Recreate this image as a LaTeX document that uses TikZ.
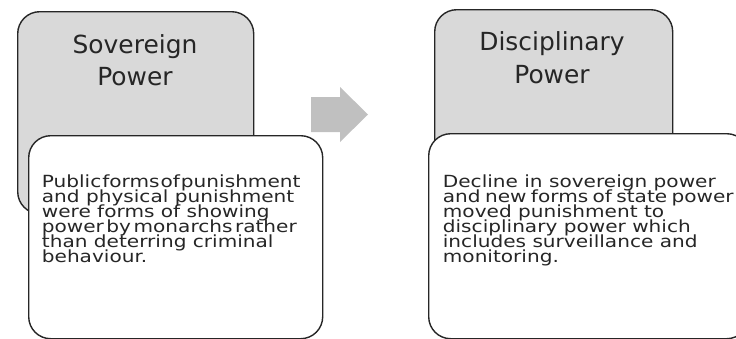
\documentclass[tikz,border=0pt]{standalone}
\usepackage{fontspec}
\setmainfont{DejaVu Sans}
\newfontfamily\bodyfont{DejaVu Sans}[FakeStretch=1.2]
\newfontfamily\headfont{DejaVu Sans}
\definecolor{boxgray}{HTML}{D9D9D9}
\definecolor{arrowgray}{HTML}{C0C0C0}
\definecolor{ink}{HTML}{262626}
\newcommand{\bodyset}{\bodyfont\fontsize{16.8}{15}\selectfont}
\newcommand{\headset}{\headfont\fontsize{25}{32.5}\selectfont}
\tikzset{
  panel/.style={draw=ink, line width=1.4bp, rounded corners=22bp, inner sep=0pt, anchor=north west},
  graybox/.style={panel, fill=boxgray},
  whitebox/.style={panel, fill=white},
  headtext/.style={text=ink, inner sep=0pt, anchor=base, font=\headset},
  bodytext/.style={text=ink, inner sep=0pt, anchor=base west, font=\bodyset,
    text height=11.5bp, text depth=3bp},
  flowarrow/.style={fill=arrowgray, draw=none},
}
\begin{document}
\begin{tikzpicture}[x=1bp, y=-1bp]
\useasboundingbox (0,0) rectangle (736,338);
% left panel
\node[graybox, minimum width=236bp, minimum height=202bp] (sovbox) at (17,11) {};
\node[headtext] (sovhead1) at (135,53) {Sovereign};
\node[headtext] (sovhead2) at (135,85.5) {Power};
\node[whitebox, minimum width=294bp, minimum height=203bp] (sovdesc) at (28,135) {};
\node[bodytext] (sovline1) at (41.7,187) {Public\hspace{1pt}forms\hspace{1pt}of\hspace{1pt}punishment};
\node[bodytext] (sovline2) at (41.7,202) {and physical punishment};
\node[bodytext] (sovline3) at (41.7,217) {were forms of showing};
\node[bodytext] (sovline4) at (41.7,232) {power\hspace{2.5pt}by\hspace{2.5pt}monarchs\hspace{2.5pt}rather};
\node[bodytext] (sovline5) at (41.7,247) {than deterring criminal};
\node[bodytext] (sovline6) at (41.7,262) {behaviour.};
% arrow
\path[flowarrow] (311,97) -- (340,97) -- (340,87) -- (368,114.5) -- (340,142) -- (340,132) -- (311,132) -- cycle;
% right panel
\node[graybox, minimum width=238bp, minimum height=204bp] (disbox) at (434,9) {};
\node[headtext] (dishead1) at (552,50.5) {Disciplinary};
\node[headtext] (dishead2) at (552,83.5) {Power};
\node[whitebox, minimum width=320bp, minimum height=205bp] (disdesc) at (428,133) {};
\node[bodytext] (disline1) at (442.7,187.5) {Decline in sovereign power};
\node[bodytext] (disline2) at (442.7,202.5) {and\hspace{4.4pt}new\hspace{4.4pt}forms\hspace{4.4pt}of\hspace{4.4pt}state\hspace{4.4pt}power};
\node[bodytext] (disline3) at (442.7,217.5) {moved punishment to};
\node[bodytext] (disline4) at (442.7,232.5) {disciplinary power which};
\node[bodytext] (disline5) at (442.7,247.5) {includes surveillance and};
\node[bodytext] (disline6) at (442.7,262.5) {monitoring.};
\end{tikzpicture}
\end{document}
